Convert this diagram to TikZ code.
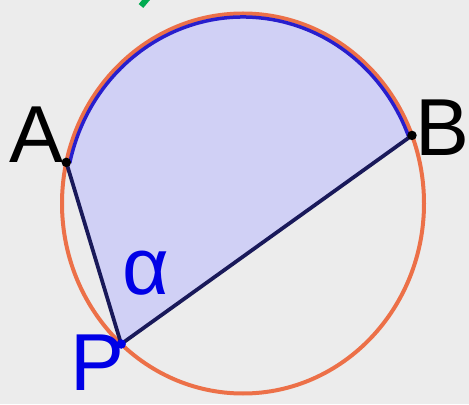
\documentclass[tikz,border=0pt]{standalone}
\usepackage{fontspec}
\setmainfont{Liberation Sans}
\usetikzlibrary{calc}
\definecolor{bgGrey}{RGB}{236,236,236}
\definecolor{arcOrange}{RGB}{236,112,72}
\definecolor{arcBlue}{RGB}{40,30,205}
\definecolor{chordNavy}{RGB}{25,25,90}
\definecolor{sectorFill}{RGB}{208,208,245}
\definecolor{labelBlue}{RGB}{0,0,230}
\definecolor{markGreen}{RGB}{0,170,80}

\begin{document}
\begin{tikzpicture}[
  font=\fontsize{46}{46}\selectfont,
  chord/.style={draw=chordNavy, line width=0.075cm},
  dot/.style={circle, inner sep=0pt, minimum size=0.19cm},
  lbl/.style={inner sep=0pt},
]
% Ellipse radii (picture is a little stretched upwards)
\def\rx{3.62}
\def\ry{3.80}
\def\rxi{3.55}   % inner radii for the blue arc
\def\ryi{3.73}

% Background and frame
\fill[bgGrey] (0,0) rectangle (9.38,8.08);
\useasboundingbox (0,0) rectangle (9.38,8.08);

% Centre and the three points on the circle
\coordinate (O) at (4.86,4.01);
\coordinate (A) at ($(O)+(167.5:\rx cm and \ry cm)$);
\coordinate (B) at ($(O)+(21:\rx cm and \ry cm)$);
\coordinate (P) at ($(O)+(227.7:\rx cm and \ry cm)$);

% Shaded region P -- A -- arc -- B
\fill[sectorFill] (P) -- (A) arc[start angle=167.5, end angle=21, x radius=\rx, y radius=\ry] -- cycle;

% Circle
\draw[arcOrange, line width=0.08cm] (O) ellipse[x radius=\rx, y radius=\ry];

% Blue arc from A to B
\draw[arcBlue, line width=0.07cm] ($(O)+(167.5:\rxi cm and \ryi cm)$)
  arc[start angle=167.5, end angle=21, x radius=\rxi, y radius=\ryi];

% Chords
\draw[chord] (A) -- (P) -- (B);

% Points
\node[dot, fill=black] (dotA) at (A) {};
\node[dot, fill=black] (dotB) at (B) {};
\node[dot, fill=labelBlue] (dotP) at (P) {};

% Labels
\node[lbl] (labA) at (0.72,5.38) {A};
\node[lbl] (labB) at (8.84,5.53) {B};
\node[lbl, labelBlue] (labP) at (1.95,0.82) {P};
\node[lbl, labelBlue] (alpha) at (2.92,2.62) {α};

% Cut-off green stroke at the top edge
\draw[markGreen, line width=0.12cm] (2.82,7.96) -- (2.98,8.15);
\end{tikzpicture}
\end{document}
